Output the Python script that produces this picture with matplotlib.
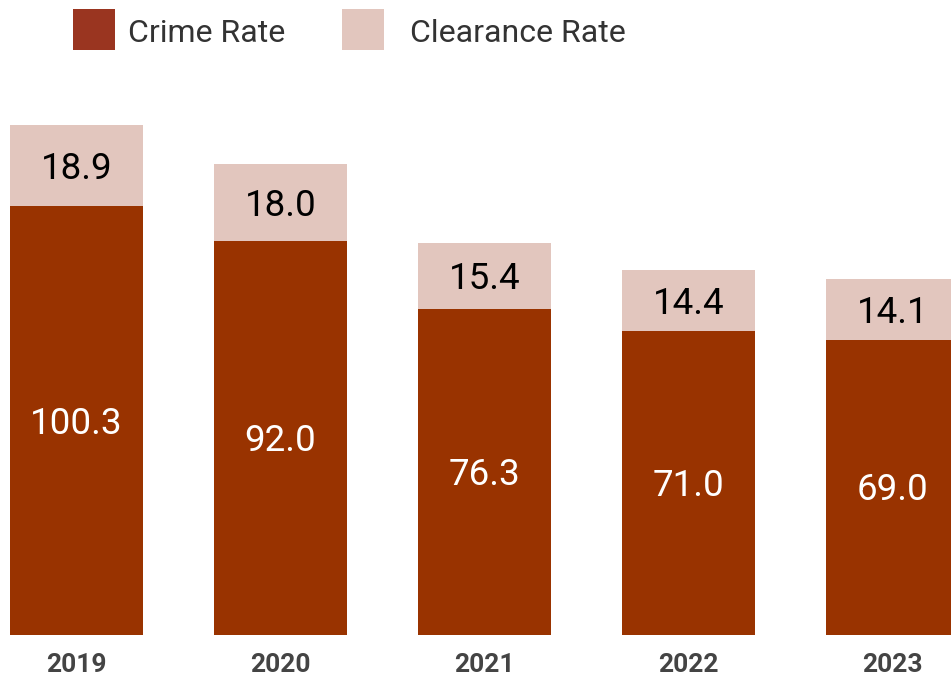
import matplotlib
matplotlib.use("Agg")
import matplotlib.pyplot as plt
from matplotlib.patches import Rectangle

years = ["2019", "2020", "2021", "2022", "2023"]
crime_rate = [100.3, 92.0, 76.3, 71.0, 69.0]
clearance_rate = [18.9, 18.0, 15.4, 14.4, 14.1]

crime_color = "#993300"
clear_color = "#e2c6be"
legend_crime = "#9a3520"

plt.rcParams['font.family'] = ['Roboto', 'DejaVu Sans']

W, H = 951, 677
fig = plt.figure(figsize=(W / 100, H / 100), dpi=100)
base_px = 635
top_px = 80
ax = fig.add_axes([0, (H - base_px) / H, 1, (base_px - top_px) / H])
scale = 510 / 119.2
ax.set_ylim(0, (base_px - top_px) / scale)
ax.set_xlim(-76.5 / 204, (W - 76.5) / 204)

x = list(range(len(years)))
w = 133 / 204
ax.bar(x, crime_rate, width=w, color=crime_color, linewidth=0)
ax.bar(x, clearance_rate, width=w, bottom=crime_rate, color=clear_color, linewidth=0)

fs = 26.5
off = -0.3555 * fs
for i in x:
    ax.annotate(f"{crime_rate[i]:.1f}", xy=(i, crime_rate[i] / 2), xytext=(0, off),
                textcoords="offset points", ha="center", va="baseline",
                color="white", fontsize=fs)
    ax.annotate(f"{clearance_rate[i]:.1f}", xy=(i, crime_rate[i] + clearance_rate[i] / 2),
                xytext=(0, off), textcoords="offset points", ha="center", va="baseline",
                color="black", fontsize=fs)

ax.set_xticks(x)
ax.set_xticklabels(years, fontsize=19, fontweight="bold", color="#444444")
ax.tick_params(axis="x", length=0, pad=13)
ax.set_yticks([])
for s in ax.spines.values():
    s.set_visible(False)

# legend drawn manually
def px_rect(x0, y0, x1, y1, color):
    fig.patches.append(Rectangle((x0 / W, 1 - y1 / H), (x1 - x0) / W, (y1 - y0) / H,
                                 transform=fig.transFigure, color=color, linewidth=0))

px_rect(73, 9, 115, 50, legend_crime)
px_rect(342, 9, 384, 50, clear_color)
fig.text(128 / W, 1 - 42.3 / H, "Crime Rate", fontsize=23, color="#333333",
         va="baseline", ha="left")
fig.text(410 / W, 1 - 42.3 / H, "Clearance Rate", fontsize=23, color="#333333",
         va="baseline", ha="left")

fig.savefig("out.png", dpi=100)
